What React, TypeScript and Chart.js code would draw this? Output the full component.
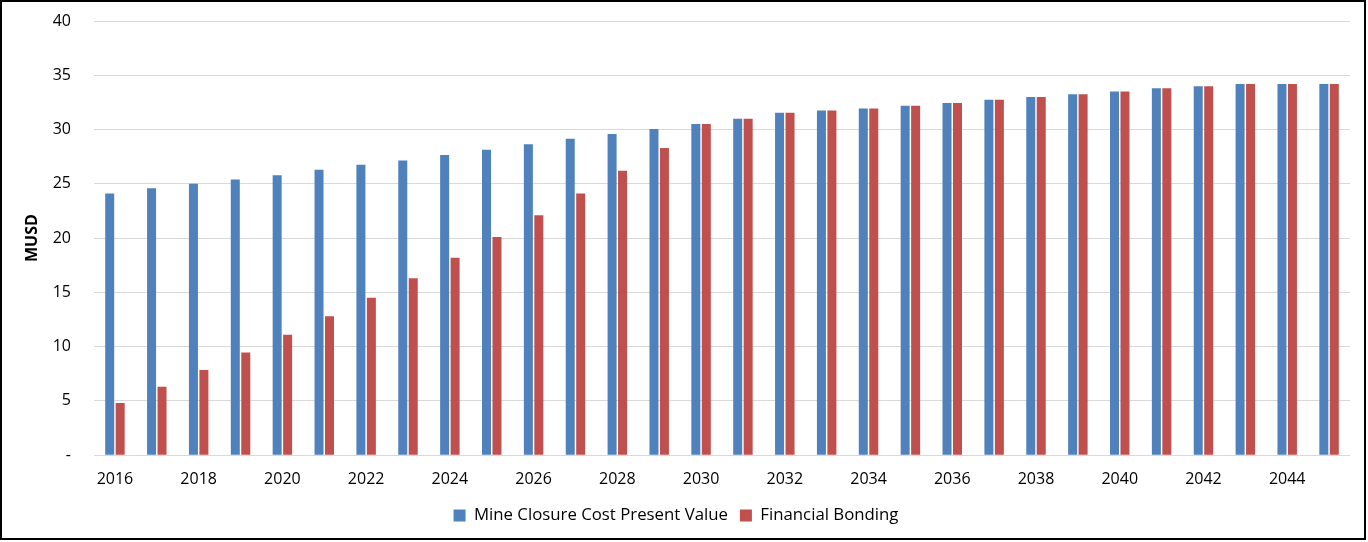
import React, { useEffect, useRef } from "react";
import { Chart, registerables } from "chart.js";

Chart.register(...registerables);

const years: string[] = [
  "2016", "2017", "2018", "2019", "2020", "2021", "2022", "2023", "2024", "2025",
  "2026", "2027", "2028", "2029", "2030", "2031", "2032", "2033", "2034", "2035",
  "2036", "2037", "2038", "2039", "2040", "2041", "2042", "2043", "2044", "2045",
];

const closureCost: number[] = [
  24.1, 24.6, 25.0, 25.4, 25.8, 26.3, 26.75, 27.15, 27.65, 28.15,
  28.65, 29.15, 29.6, 30.05, 30.5, 31.0, 31.55, 31.75, 31.95, 32.2,
  32.45, 32.75, 33.0, 33.25, 33.5, 33.8, 34.0, 34.2, 34.2, 34.2,
];

const financialBonding: number[] = [
  4.8, 6.3, 7.85, 9.45, 11.1, 12.8, 14.5, 16.3, 18.2, 20.1,
  22.1, 24.1, 26.2, 28.3, 30.5, 31.0, 31.55, 31.75, 31.95, 32.2,
  32.45, 32.75, 33.0, 33.25, 33.5, 33.8, 34.0, 34.2, 34.2, 34.2,
];

const seriesNames: string[] = ["Mine Closure Cost Present Value", "Financial Bonding"];
const yTicks: number[] = [0, 5, 10, 15, 20, 25, 30, 35, 40];
const yTitle = "MUSD";

const FONT = "'Open Sans', sans-serif";

export default function App() {
  const ref = useRef<HTMLCanvasElement | null>(null);

  useEffect(() => {
    document.body.style.margin = "0";
    const canvas = ref.current;
    if (!canvas) return;
    const chart = new Chart(canvas, {
      type: "bar",
      data: {
        labels: years,
        datasets: [
          {
            label: seriesNames[0],
            data: closureCost,
            backgroundColor: "#4F81BD",
            categoryPercentage: 0.5,
            barPercentage: 0.86,
          },
          {
            label: seriesNames[1],
            data: financialBonding,
            backgroundColor: "#C0504D",
            categoryPercentage: 0.5,
            barPercentage: 0.86,
          },
        ],
      },
      options: {
        animation: false,
        responsive: false,
        maintainAspectRatio: false,
        layout: { padding: { left: 0, right: 14, top: 19, bottom: 4 } },
        plugins: {
          tooltip: { enabled: false },
          legend: {
            position: "bottom",
            labels: {
              boxWidth: 12,
              boxHeight: 12,
              padding: 12,
              color: "#000",
              font: { family: FONT, size: 16.8 },
            },
          },
        },
        scales: {
          x: {
            grid: { display: false, drawTicks: false },
            border: { display: false },
            ticks: {
              autoSkip: false,
              maxRotation: 0,
              minRotation: 0,
              padding: 15,
              color: "#000",
              font: { family: FONT, size: 16 },
              callback: (_v: any, i: number) => (i % 2 === 0 ? years[i] : ""),
            },
            afterFit: (s: any) => {
              s.height = 40;
              s.paddingLeft = 0;
              s.paddingRight = 0;
              s.paddingTop = 0;
              s.paddingBottom = 0;
            },
          },
          y: {
            min: 0,
            max: 40,
            grid: { color: "#D9D9D9", lineWidth: 1, drawTicks: false },
            border: { display: false },
            afterBuildTicks: (s: any) => {
              s.ticks = yTicks.map((v) => ({ value: v }));
            },
            ticks: {
              padding: 23,
              color: "#000",
              font: { family: FONT, size: 16 },
              callback: (v: any) => (Number(v) === 0 ? "-" : String(v)),
            },
            title: {
              display: true,
              text: yTitle,
              color: "#000",
              font: { family: FONT, size: 16, weight: "bold" },
              padding: { top: 21, bottom: 0 },
            },
            afterFit: (s: any) => {
              s.width = 92;
              s.paddingTop = 0;
              s.paddingBottom = 0;
              s.paddingLeft = 0;
              s.paddingRight = 0;
            },
          },
        },
      },
    });
    return () => chart.destroy();
  }, []);

  return (
    <div
      style={{
        width: 1366,
        height: 540,
        border: "2px solid #000",
        boxSizing: "border-box",
        background: "#fff",
      }}
    >
      <canvas ref={ref} width={1362} height={536} style={{ display: "block" }} />
    </div>
  );
}
